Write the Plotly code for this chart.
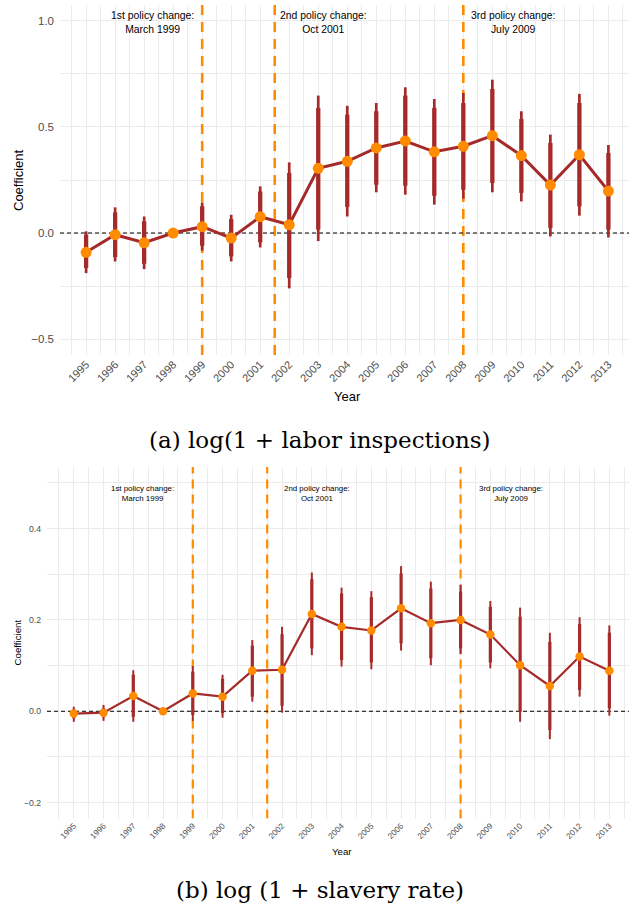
import plotly.graph_objects as go

# ---------------- data ----------------
years = list(range(1995, 2014))

# Panel (a): log(1 + labor inspections)
coef_a = [-0.091, -0.008, -0.046, 0.0, 0.030, -0.024, 0.077, 0.039, 0.305, 0.338,
          0.401, 0.434, 0.383, 0.409, 0.459, 0.365, 0.226, 0.369, 0.198]
hi95_a = [0.008, 0.121, 0.078, None, 0.144, 0.086, 0.220, 0.333, 0.648, 0.600,
          0.613, 0.687, 0.632, 0.660, 0.723, 0.574, 0.464, 0.656, 0.415]
lo95_a = [-0.189, -0.134, -0.170, None, -0.083, -0.134, -0.068, -0.261, -0.038, 0.078,
          0.192, 0.181, 0.134, 0.162, 0.192, 0.149, -0.016, 0.082, -0.021]
hi90_a = [-0.008, 0.097, 0.055, None, 0.126, 0.066, 0.196, 0.283, 0.590, 0.558,
          0.574, 0.648, 0.590, 0.613, 0.679, 0.538, 0.425, 0.613, 0.377]
lo90_a = [-0.165, -0.113, -0.145, None, -0.060, -0.110, -0.044, -0.212, 0.016, 0.123,
          0.228, 0.223, 0.176, 0.204, 0.236, 0.189, 0.024, 0.126, 0.016]

# Panel (b): log(1 + slavery rate)
coef_b = [-0.005, -0.003, 0.0335, 0.0, 0.039, 0.032, 0.089, 0.091, 0.213, 0.185,
          0.177, 0.2255, 0.193, 0.200, 0.168, 0.101, 0.0554, 0.120, 0.089]
hi95_b = [0.010, 0.014, 0.090, None, 0.099, 0.080, 0.156, 0.185, 0.304, 0.271,
          0.263, 0.318, 0.284, 0.277, 0.2415, 0.227, 0.172, 0.206, 0.188]
lo95_b = [-0.023, -0.021, -0.023, None, -0.021, -0.014, 0.021, -0.003, 0.123, 0.098,
          0.092, 0.133, 0.101, 0.125, 0.094, -0.023, -0.061, 0.032, -0.0096]
hi90_b = [0.004, 0.0066, 0.080, None, 0.087, 0.071, 0.144, 0.169, 0.289, 0.258,
          0.250, 0.302, 0.269, 0.262, 0.229, 0.207, 0.152, 0.191, 0.172]
lo90_b = [-0.015, -0.013, -0.012, None, -0.008, -0.004, 0.032, 0.012, 0.138, 0.112,
          0.107, 0.149, 0.116, 0.138, 0.107, -0.001, -0.041, 0.047, 0.0066]

policy_x = [1999, 2001.5, 2008]
policy_label_x = [1997.3, 2003.17, 2009.7]
policy_labels = ["1st policy change:<br>March 1999",
                 "2nd policy change:<br>Oct 2001",
                 "3rd policy change:<br>July 2009"]

captions = ["(a) log(1 + labor inspections)", "(b) log (1 + slavery rate)"]

# ---------------- style ----------------
W, H = 629, 909
BROWN = "#A52A2A"
ORANGE = "#FF8C00"
GRID = "#EBEBEB"
TICK = "#4D4D4D"
SANS = "Liberation Sans, Arial, sans-serif"


def segs(xs, lo, hi):
    X, Y = [], []
    for x, l, h in zip(xs, lo, hi):
        if l is None or h is None:
            continue
        X += [x, x, None]
        Y += [l, h, None]
    return X, Y


def px2paper_y(p):
    return 1 - p / H


def px2paper_x(p):
    return p / W


fig = go.Figure()

panels = [
    dict(coef=coef_a, lo95=lo95_a, hi95=hi95_a, lo90=lo90_a, hi90=hi90_a,
         xa="x", ya="y", left=60, top=5, bottom=355, xr=[1994.1, 2013.71],
         yr=[-0.575, 1.075], dtick=0.5, mdtick=0.25,
         thin=2.7, thick=4.3, lw=3, ms=11, vw=2.6, vdash="10px,7px",
         tickfs=11.5, xtickfs=11, annfs=10.4, titlefs=13,
         year_xy=(347, 397), coef_xy=(19, 180), ann_y=22, cap_y=440),
    dict(coef=coef_b, lo95=lo95_b, hi95=hi95_b, lo90=lo90_b, hi90=hi90_b,
         xa="x2", ya="y2", left=47, top=467, bottom=818.6, xr=[1994.1, 2013.66],
         yr=[-0.235, 0.535], dtick=0.2, mdtick=0.1,
         thin=2.0, thick=3.2, lw=2.2, ms=8.5, vw=2.2, vdash="9px,6px",
         tickfs=8.7, xtickfs=8.2, annfs=7.9, titlefs=9.7,
         year_xy=(342, 851), coef_xy=(16.5, 643), ann_y=493, cap_y=890),
]

layout_axes = {}
annotations = []

for i, p in enumerate(panels):
    xa, ya = p["xa"], p["ya"]
    # policy vertical lines (drawn first, under the data)
    for vx in policy_x:
        fig.add_trace(go.Scatter(x=[vx, vx], y=p["yr"], mode="lines", xaxis=xa, yaxis=ya,
                                 line=dict(color=ORANGE, width=p["vw"], dash=p["vdash"]),
                                 hoverinfo="skip", showlegend=False))
    # zero reference line
    fig.add_trace(go.Scatter(x=p["xr"], y=[0, 0], mode="lines", xaxis=xa, yaxis=ya,
                             line=dict(color="black", width=1.1, dash="4px,3px"),
                             hoverinfo="skip", showlegend=False))
    # error bars: outer (thin) and inner (thick)
    X, Y = segs(years, p["lo95"], p["hi95"])
    fig.add_trace(go.Scatter(x=X, y=Y, mode="lines", xaxis=xa, yaxis=ya,
                             line=dict(color=BROWN, width=p["thin"]),
                             hoverinfo="skip", showlegend=False))
    X, Y = segs(years, p["lo90"], p["hi90"])
    fig.add_trace(go.Scatter(x=X, y=Y, mode="lines", xaxis=xa, yaxis=ya,
                             line=dict(color=BROWN, width=p["thick"]),
                             hoverinfo="skip", showlegend=False))
    # coefficient line
    fig.add_trace(go.Scatter(x=years, y=p["coef"], mode="lines", xaxis=xa, yaxis=ya,
                             line=dict(color=BROWN, width=p["lw"]),
                             showlegend=False))
    # points
    fig.add_trace(go.Scatter(x=years, y=p["coef"], mode="markers", xaxis=xa, yaxis=ya,
                             marker=dict(color=ORANGE, size=p["ms"]),
                             showlegend=False))

    axn = "" if i == 0 else "2"
    layout_axes["xaxis" + axn] = dict(
        domain=[px2paper_x(p["left"]), 1], range=p["xr"], anchor=ya,
        tickmode="linear", tick0=1995, dtick=1, tickangle=-45,
        tickfont=dict(family=SANS, size=p["xtickfs"], color=TICK),
        showgrid=True, gridcolor=GRID, gridwidth=1.1,
        minor=dict(tick0=1994.5, dtick=1, showgrid=True, gridcolor=GRID, gridwidth=0.7),
        zeroline=False, showline=False, ticks="", ticklabelstandoff=0,
    )
    layout_axes["yaxis" + axn] = dict(
        domain=[px2paper_y(p["bottom"]), px2paper_y(p["top"])], range=p["yr"],
        anchor=xa, tickmode="linear", tick0=0, dtick=p["dtick"], tickformat=".1f",
        tickfont=dict(family=SANS, size=p["tickfs"], color=TICK),
        showgrid=True, gridcolor=GRID, gridwidth=1.1,
        minor=dict(tick0=0, dtick=p["mdtick"], showgrid=True, gridcolor=GRID, gridwidth=0.7),
        zeroline=False, showline=False, ticks="", ticklabelstandoff=5,
    )

    # policy labels
    for lx, lab in zip(policy_label_x, policy_labels):
        annotations.append(dict(x=lx, y=px2paper_y(p["ann_y"]), xref=xa, yref="paper",
                                text=lab, showarrow=False, xanchor="center", yanchor="middle",
                                font=dict(family=SANS, size=p["annfs"], color="black")))
    # axis titles
    annotations.append(dict(x=px2paper_x(p["year_xy"][0]), y=px2paper_y(p["year_xy"][1]),
                            xref="paper", yref="paper", text="Year", showarrow=False,
                            xanchor="center", yanchor="middle",
                            font=dict(family=SANS, size=p["titlefs"], color="black")))
    annotations.append(dict(x=px2paper_x(p["coef_xy"][0]), y=px2paper_y(p["coef_xy"][1]),
                            xref="paper", yref="paper", text="Coefficient", showarrow=False,
                            textangle=-90, xanchor="center", yanchor="middle",
                            font=dict(family=SANS, size=p["titlefs"], color="black")))
    # caption
    annotations.append(dict(x=px2paper_x(320), y=px2paper_y(p["cap_y"]), xref="paper",
                            yref="paper", text=captions[i], showarrow=False,
                            xanchor="center", yanchor="middle",
                            font=dict(family="DejaVu Serif, serif", size=23, color="black")))

fig.update_layout(
    width=W, height=H, margin=dict(l=0, r=0, t=0, b=0),
    paper_bgcolor="white", plot_bgcolor="white",
    annotations=annotations, showlegend=False,
    **layout_axes,
)

fig.write_html("out.html", config={"displayModeBar": False},
               post_script="document.body.style.margin='0';")
